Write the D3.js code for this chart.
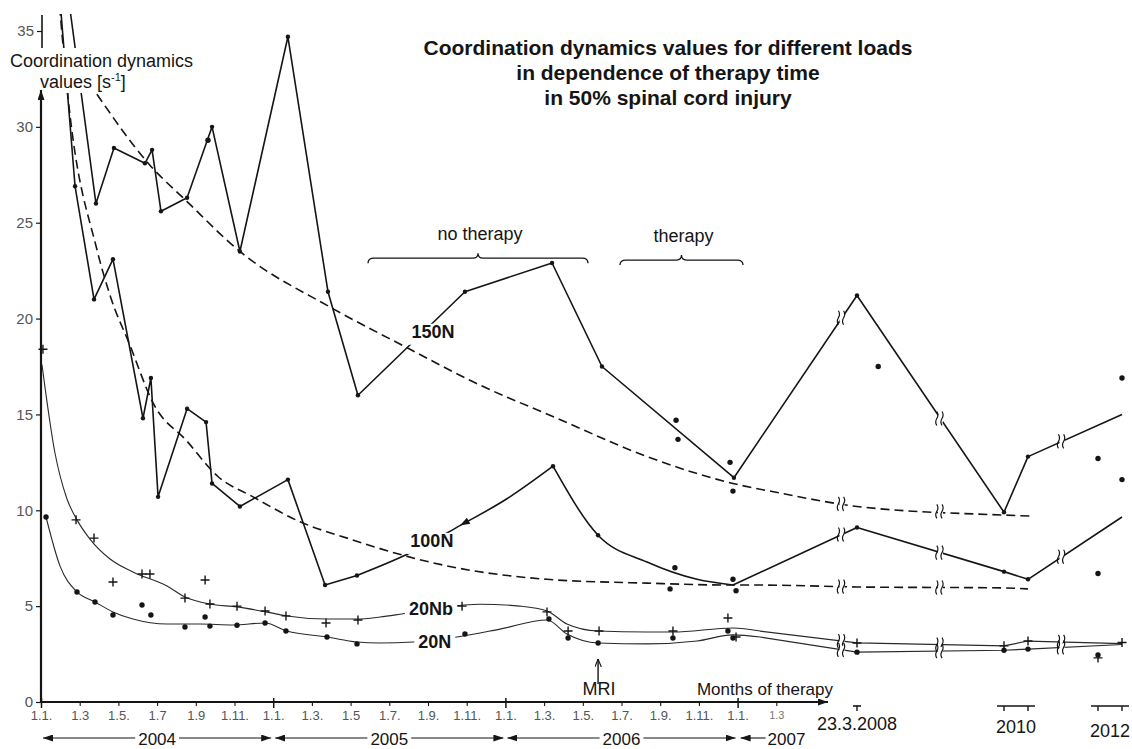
<!DOCTYPE html>
<html><head><meta charset="utf-8">
<script src="https://cdn.jsdelivr.net/npm/d3@7/dist/d3.min.js"></script>
<style>
body{margin:0;background:#fff;}
svg{display:block;font-family:"Liberation Sans",Arial,Helvetica,sans-serif;}
</style></head><body>
<svg id="c" width="1132" height="749"></svg>
<script>
// ================= DATA (x = months since 1.1.2004, y = coordination dynamics value) =================
const titleLines = ["Coordination dynamics values for different loads","in dependence of therapy time","in 50% spinal cord injury"];
const yTicks = [0,5,10,15,20,25,30];
const yTickTop = [35];
const monthTicks = [0,2,4,6,8,10,12,14,16,18,20,22,24,26,28,30,32,34,36,38];
const monthTickLabels = ["1.1.","1.3","1.5.","1.7","1.9","1.11.","1.1.","1.3.","1.5","1.7.","1.9.","1.11.","1.1.","1.3.","1.5.","1.7.","1.9.","1.11.","1.1.","1.3"];
const yearSpans = [["2004",0,12],["2005",12,24],["2006",24,36]];
const lastYear = ["2007",36];
const lateMarks = [["23.3.2008",[50.73]],["2010",[72,74]],["2012",[96,98]]];
const breakAt = [46.9, 62.8, 84.7];

// 150N measured (solid polyline)
const n150 = [[1.45,36.5],[2.84,26.0],[3.77,28.9],[5.37,28.1],[5.74,28.8],[6.20,25.6],[7.55,26.3],[8.84,30.0],[10.28,23.5],[12.76,34.7],[14.83,21.4],[16.38,16.0],[21.91,21.4],[26.41,22.9],[28.99,17.5],[35.81,11.7],[50.73,21.2],[72,9.9],[74,12.8],[98,15.0]];
const n150Dots = [[8.63,29.3],[32.82,14.7],[32.92,13.7],[35.61,12.5],[35.76,11.0],[53.8,17.5],[96,12.7],[98,16.9],[98,11.6]];
const n150Fit = [[2.89,31.7],[5.63,28.0],[7.55,26.1],[10.28,23.5],[14.94,20.6],[19.07,18.4],[22.33,16.7],[26.67,14.8],[31.32,12.8],[35.76,11.4],[38.19,10.9],[50.73,10.2],[72,9.75],[74.5,9.7]];

// 100N measured
const n100Early = [[0.95,37],[1.76,26.9],[2.74,21.0],[3.72,23.1],[5.27,14.8],[5.68,16.9],[6.05,10.7],[7.55,15.3],[8.53,14.6],[8.84,11.4],[10.28,10.2],[12.76,11.6],[14.68,6.1],[16.33,6.6]];
const n100Rise = [[16.33,6.6],[19.33,7.9],[21.65,9.2],[24.08,10.6],[26.46,12.3]];
const n100Decay = [[26.46,12.3],[28.79,8.7],[31.32,7.3],[33.90,6.4],[35.76,6.1]];
const n100Late = [[35.76,6.1],[50.73,9.1],[72,6.8],[74,6.4],[98,9.65]];
const n100Dots = [[32.51,5.9],[32.76,7.0],[35.76,6.4],[35.92,5.8],[96,6.7]];
const n100Fit = [[0.9,37],[1.40,31.5],[2.89,23.6],[3.57,21.2],[4.60,18.6],[5.79,15.6],[7.55,13.6],[9.10,11.8],[10.96,10.7],[13.39,9.4],[15.97,8.5],[17.52,8.0],[20.98,7.1],[26.15,6.4],[31.32,6.2],[35.61,6.1],[37.16,6.1],[50.73,6.0],[72,5.95],[74,5.9]];

// 20Nb (+) and 20N (dots)
const n20bPlus = [[0.1,18.4],[1.81,9.5],[2.74,8.55],[3.72,6.26],[5.22,6.68],[5.63,6.68],[7.44,5.42],[8.48,6.36],[8.73,5.11],[10.13,5.0],[11.58,4.75],[12.66,4.49],[14.73,4.12],[16.38,4.28],[21.76,5.0],[26.15,4.7],[27.24,3.7],[28.84,3.7],[32.66,3.7],[35.50,4.38],[35.92,3.39],[50.73,3.08],[72,2.93],[74,3.18],[96,2.3],[98,3.1]];
const n20bFit = [[0.05,17.6],[0.72,13.0],[1.34,10.6],[1.86,9.5],[2.53,8.5],[3.57,7.46],[4.75,6.78],[6.51,6.05],[7.44,5.48],[8.73,5.11],[10.13,4.96],[11.68,4.69],[12.71,4.49],[14.78,4.33],[16.33,4.33],[17.52,4.43],[18.71,4.6],[21.76,5.05],[22.69,5.1],[24.75,5.0],[26.15,4.75],[27.18,4.07],[28.79,3.7],[31.32,3.65],[32.66,3.65],[35.76,3.86],[37.16,3.7]];
const n20bLate = [[37.16,3.7],[50.73,3.08],[72,2.93],[74,3.18],[98,3.05]];
const n20Dots = [[0.26,9.65],[1.86,5.74],[2.79,5.22],[3.72,4.54],[5.22,5.06],[5.68,4.54],[7.44,3.91],[8.48,4.43],[8.73,3.96],[10.13,4.0],[11.58,4.12],[12.66,3.7],[14.78,3.39],[16.33,3.03],[21.91,3.55],[26.25,4.33],[27.24,3.34],[28.79,3.08],[32.66,3.34],[35.50,3.7],[35.76,3.34],[50.73,2.6],[72,2.7],[74,2.76],[96,2.45]];
const n20Fit = [[0.26,9.65],[0.98,7.1],[1.86,5.74],[2.79,5.22],[3.72,4.7],[4.75,4.33],[6.51,4.07],[8.22,4.07],[9.92,4.02],[11.58,4.12],[12.71,3.7],[14.78,3.39],[16.33,3.13],[17.52,3.08],[19.22,3.13],[21.50,3.39],[23.72,3.8],[26.15,4.28],[27.18,3.55],[28.79,3.08],[31.32,3.03],[33.90,3.18],[35.76,3.5],[37.16,3.39]];
const n20Late = [[37.16,3.39],[50.73,2.6],[72,2.7],[74,2.76],[98,3.0]];

// annotations
const seriesLabels = [["150N",20.26,19.0],["100N",20.2,8.09],["20Nb",20.15,4.54],["20N",20.35,2.82]];
const brackets = [["no therapy",16.9,28.27,23.15],["therapy",29.92,36.28,23.05]];
const mriAt = 28.79;
const monthsLabelAt = 33.9;

// ================= CHART =================
const W = 1132, H = 749;
const svg = d3.select("#c");
svg.append("rect").attr("width", W).attr("height", H).attr("fill", "#fff");

const x = d3.scaleLinear().domain([0, 40, 50.73, 72, 74, 96, 98]).range([41, 815, 857, 1004, 1028, 1098, 1122]);
const y = d3.scaleLinear().domain([0, 35]).range([702, 31]);
const INK = "#151515";

const defs = svg.append("defs");
defs.append("marker").attr("id", "ah").attr("viewBox", "0 0 10 7").attr("refX", 10).attr("refY", 3.5)
  .attr("markerUnits", "userSpaceOnUse").attr("markerWidth", 10).attr("markerHeight", 7).attr("orient", "auto")
  .append("path").attr("d", "M0,0L10,3.5L0,7Z").attr("fill", INK);
defs.append("marker").attr("id", "ahs").attr("viewBox", "0 0 10 8").attr("refX", 10).attr("refY", 4)
  .attr("markerUnits", "userSpaceOnUse").attr("markerWidth", 8).attr("markerHeight", 7).attr("orient", "auto")
  .append("path").attr("d", "M0,0L10,4L0,8").attr("fill", "none").attr("stroke", INK).attr("stroke-width", 1.4);
const clip = defs.append("clipPath").attr("id", "pc");
clip.append("rect").attr("x", 0).attr("y", 14).attr("width", 200).attr("height", 34);
clip.append("rect").attr("x", 0).attr("y", 93).attr("width", 200).attr("height", H - 93);
clip.append("rect").attr("x", 200).attr("y", 0).attr("width", W - 200).attr("height", H);

// ---- title ----
const tt = svg.append("text").attr("font-weight", "bold").attr("font-size", 21).attr("text-anchor", "middle").attr("fill", INK);
titleLines.forEach((t, i) => tt.append("tspan").attr("x", 668).attr("y", 55 + i * 25).text(t));

// ---- y axis ----
const yAx = svg.append("g").attr("transform", "translate(41,0)")
  .call(d3.axisLeft(y).tickValues(yTicks).tickSize(5).tickPadding(3));
yAx.select(".domain").remove();
const yAx2 = svg.append("g").attr("transform", "translate(42,0)")
  .call(d3.axisLeft(y).tickValues(yTickTop).tickSize(5).tickPadding(3));
yAx2.select(".domain").remove();
[yAx, yAx2].forEach(g => {
  g.selectAll("text").attr("font-size", 15).attr("fill", "#555").attr("font-family", "Liberation Sans, Arial, sans-serif");
  g.selectAll("line").attr("stroke", INK).attr("stroke-width", 1.2);
});
svg.append("line").attr("x1", 41).attr("x2", 41).attr("y1", y(0)).attr("y2", 90)
  .attr("stroke", INK).attr("stroke-width", 2.2).attr("marker-end", "url(#ah)");
svg.append("line").attr("x1", 42).attr("x2", 42).attr("y1", 15).attr("y2", 48).attr("stroke", INK).attr("stroke-width", 1.6);

const yl = svg.append("text").attr("font-size", 18).attr("fill", INK);
yl.append("tspan").attr("x", 10).attr("y", 67).text("Coordination dynamics");
const yl2 = svg.append("text").attr("font-size", 18).attr("fill", INK).attr("x", 40).attr("y", 88);
yl2.append("tspan").text("values [s");
yl2.append("tspan").attr("font-size", 11).attr("dy", -7).text("-1");
yl2.append("tspan").attr("dy", 7).text("]");

// ---- x axis ----
const xMain = x.copy().domain([0, 40, 42.8]).range([41, 815, 826]);
const xAx = svg.append("g").attr("transform", `translate(0,${y(0)})`)
  .call(d3.axisBottom(xMain).tickValues(monthTicks).tickSize(4).tickPadding(5)
    .tickFormat((d, i) => monthTickLabels[i]));
xAx.select(".domain").remove();
xAx.selectAll("text").attr("font-size", 13).attr("fill", "#555").attr("font-family", "Liberation Sans, Arial, sans-serif");
xAx.selectAll("line").attr("stroke", INK).attr("stroke-width", 1.1);
xAx.selectAll(".tick").filter(d => d % 12 === 0).select("line").attr("y1", -4).attr("y2", 6).attr("stroke-width", 1.5);
xAx.selectAll(".tick").filter(d => d === 38).select("text").attr("font-size", 11).attr("fill", "#777");
svg.append("line").attr("x1", 40).attr("x2", 828).attr("y1", y(0)).attr("y2", y(0))
  .attr("stroke", INK).attr("stroke-width", 2.2).attr("marker-end", "url(#ah)");

// year row
const yr = svg.append("g").attr("font-size", 17).attr("fill", INK);
yearSpans.forEach(([lab, a, b]) => {
  const xa = x(a), xb = x(b), xm = (xa + xb) / 2;
  const t = yr.append("text").attr("x", xm).attr("y", 745).attr("text-anchor", "middle").text(lab);
  const w = t.node().getComputedTextLength();
  yr.append("line").attr("x1", xm - w / 2 - 3).attr("x2", xa + 2).attr("y1", 738).attr("y2", 738)
    .attr("stroke", INK).attr("stroke-width", 1.1).attr("marker-end", "url(#ah)");
  yr.append("line").attr("x1", xm + w / 2 + 3).attr("x2", xb - 2).attr("y1", 738).attr("y2", 738)
    .attr("stroke", INK).attr("stroke-width", 1.1).attr("marker-end", "url(#ah)");
});
{
  const xa = x(lastYear[1]);
  yr.append("text").attr("x", xa + 30).attr("y", 745).text(lastYear[0]);
  yr.append("line").attr("x1", xa + 28).attr("x2", xa + 3).attr("y1", 738).attr("y2", 738)
    .attr("stroke", INK).attr("stroke-width", 1.1).attr("marker-end", "url(#ah)");
}

// late axis marks
const lm = svg.append("g");
const lateBaselines = [730, 733, 737];
lateMarks.forEach(([lab, ts], i) => {
  const xs = ts.map(x);
  const x0 = d3.min(xs), x1 = d3.max(xs);
  const ext = ts.length > 1 ? 7 : 4;
  lm.append("line").attr("x1", x0 - ext).attr("x2", x1 + ext).attr("y1", 706).attr("y2", 706).attr("stroke", INK).attr("stroke-width", 1.6);
  xs.forEach(xx => lm.append("line").attr("x1", xx).attr("x2", xx).attr("y1", 706).attr("y2", 711).attr("stroke", INK).attr("stroke-width", 1.4));
  lm.append("text").attr("x", (x0 + x1) / 2).attr("y", lateBaselines[i]).attr("text-anchor", "middle")
    .attr("font-size", 18).attr("fill", INK).text(lab);
});

// ---- plot lines ----
const plot = svg.append("g").attr("clip-path", "url(#pc)");
const lin = d3.line().x(d => x(d[0])).y(d => y(d[1]));
const smooth = d3.line().x(d => x(d[0])).y(d => y(d[1])).curve(d3.curveMonotoneX);

function path(data, gen, w, dash, col) {
  plot.append("path").attr("d", gen(data)).attr("fill", "none").attr("stroke", col || INK)
    .attr("stroke-width", w).attr("stroke-dasharray", dash || null).attr("stroke-linejoin", "round");
}
path(n150Fit, smooth, 1.6, "9,5");
path(n100Fit, smooth, 1.6, "9,5");
path(n20bFit, smooth, 1.1, null, "#2a2a2a");
path(n20bLate, lin, 1.2, null, "#2a2a2a");
path(n20Fit, smooth, 1.1, null, "#2a2a2a");
path(n20Late, lin, 1.2, null, "#2a2a2a");
path(n150, lin, 1.6);
path(n100Early, lin, 1.6);
path(n100Rise, smooth, 1.6);
path(n100Decay, smooth, 1.6);
path(n100Late, lin, 1.6);

// vertex dots
const vtx = [].concat(n150.slice(1, -1), n100Early.slice(1), [n100Decay[0], n100Decay[1]], n100Late.slice(1, -1));
plot.selectAll(null).data(vtx).join("circle").attr("cx", d => x(d[0])).attr("cy", d => y(d[1])).attr("r", 2.2).attr("fill", INK);
// measured dots
plot.selectAll(null).data([].concat(n150Dots, n100Dots, n20Dots)).join("circle")
  .attr("cx", d => x(d[0])).attr("cy", d => y(d[1])).attr("r", 2.7).attr("fill", INK);
// plus marks
plot.selectAll(null).data(n20bPlus).join("path")
  .attr("transform", d => `translate(${x(d[0])},${y(d[1])})`)
  .attr("d", "M-4.5,0H4.5M0,-4.5V4.5").attr("stroke", INK).attr("stroke-width", 1.4).attr("fill", "none");

// break glyphs
function yAtPx(arr, m) {
  for (let i = 0; i < arr.length - 1; i++) {
    if (arr[i][0] <= m && m <= arr[i + 1][0]) {
      const xa = x(arr[i][0]), xb = x(arr[i + 1][0]), ya = y(arr[i][1]), yb = y(arr[i + 1][1]);
      return ya + (yb - ya) * (x(m) - xa) / (xb - xa);
    }
  }
  return null;
}
const brk = svg.append("g");
[n150, n150Fit, n100Late, n100Fit, n20bLate, n20Late].forEach(arr => {
  breakAt.forEach(m => {
    const py = yAtPx(arr, m);
    if (py === null) return;
    const px = x(m);
    brk.append("rect").attr("x", px - 2.5).attr("y", py - 4).attr("width", 5).attr("height", 8).attr("fill", "#fff");
    [-2.6, 2.6].forEach(o => brk.append("path")
      .attr("d", `M${px + o - 1},${py - 7}q2.2,3.5 0,7q-2.2,3.5 0,7`)
      .attr("fill", "none").attr("stroke", INK).attr("stroke-width", 1.2));
  });
});

// ---- series labels (with white gap in the line) ----
const lab = svg.append("g");
seriesLabels.forEach(([t, m, v]) => {
  const te = lab.append("text").attr("x", x(m)).attr("y", y(v)).attr("text-anchor", "middle")
    .attr("font-weight", "bold").attr("font-size", 18).attr("fill", INK).text(t);
  const bb = te.node().getBBox();
  lab.insert("rect", () => te.node()).attr("x", bb.x - 4).attr("y", bb.y + 2).attr("width", bb.width + 8)
    .attr("height", bb.height + 1).attr("fill", "#fff");
});
// 100N arrow head
{
  const tip = n100Rise[2], from = n100Rise[3];
  const tx = x(tip[0]), ty = y(tip[1]), fx = x(from[0]), fy = y(from[1]);
  const ang = Math.atan2(ty - fy, tx - fx) * 180 / Math.PI;
  svg.append("path").attr("d", "M0,0L-10,-3.5L-10,3.5Z").attr("fill", INK)
    .attr("transform", `translate(${tx},${ty}) rotate(${ang})`);
}

// brackets
const br = svg.append("g");
brackets.forEach(([t, a, b, v]) => {
  const xa = x(a), xb = x(b), yy = y(v), xm = (xa + xb) / 2;
  br.append("path").attr("d",
    `M${xa},${yy + 5}Q${xa},${yy} ${xa + 6},${yy}L${xm - 5},${yy}Q${xm},${yy} ${xm},${yy - 5}Q${xm},${yy} ${xm + 5},${yy}L${xb - 6},${yy}Q${xb},${yy} ${xb},${yy + 5}`)
    .attr("fill", "none").attr("stroke", INK).attr("stroke-width", 1.3);
  br.append("text").attr("x", xm + 2).attr("y", yy - 18).attr("text-anchor", "middle").attr("font-size", 18).attr("fill", INK).text(t);
});

// MRI & months label
svg.append("line").attr("x1", x(mriAt)).attr("x2", x(mriAt)).attr("y1", 684).attr("y2", 659)
  .attr("stroke", INK).attr("stroke-width", 1.4).attr("marker-end", "url(#ahs)");
svg.append("text").attr("x", x(mriAt) + 1).attr("y", 695).attr("text-anchor", "middle").attr("font-size", 18).attr("fill", INK).text("MRI");
svg.append("text").attr("x", x(monthsLabelAt)).attr("y", 695).attr("font-size", 17).attr("fill", INK).text("Months of therapy");
</script>
</body></html>
